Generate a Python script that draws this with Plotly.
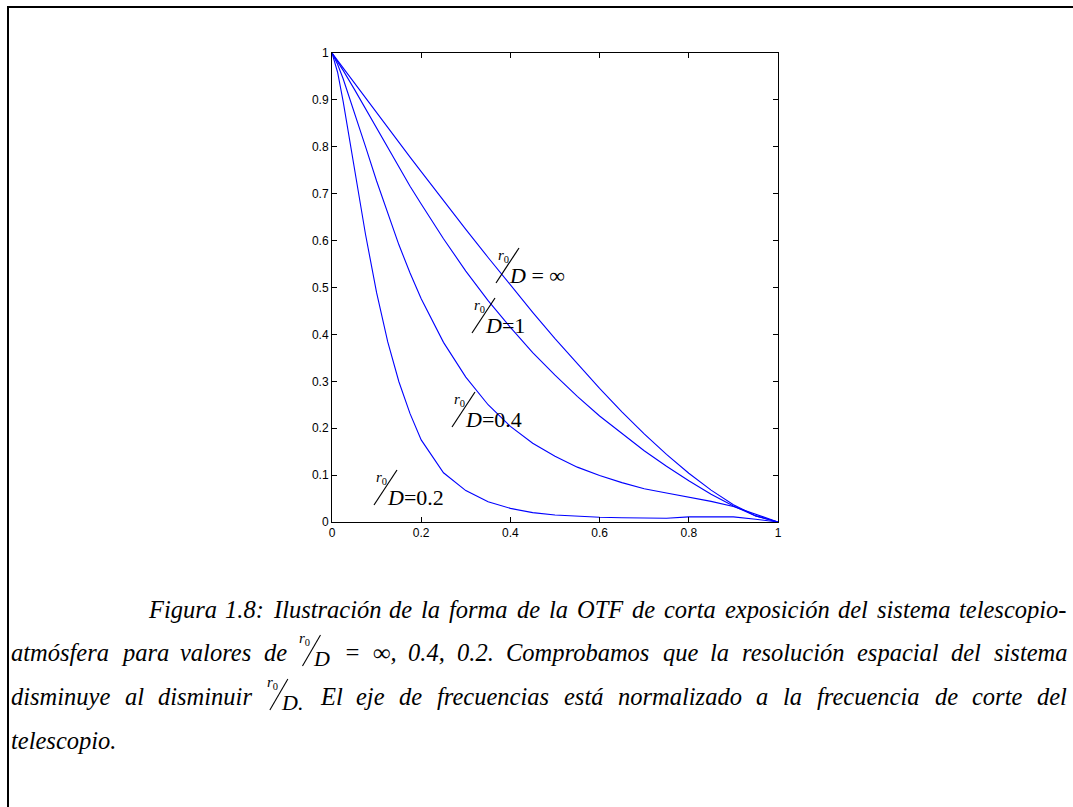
import plotly.graph_objects as go

# Normalised spatial frequency (fraction of the telescope cut-off)
freq = [0, 0.0125, 0.025, 0.05, 0.075, 0.1, 0.125, 0.15, 0.175, 0.2, 0.25, 0.3,
        0.35, 0.4, 0.45, 0.5, 0.55, 0.6, 0.65, 0.7, 0.75, 0.8, 0.85, 0.9, 0.95, 1.0]

# Short-exposure OTF for each r0/D
otf_inf = [1.0, 0.984, 0.968, 0.936, 0.905, 0.873, 0.841, 0.810, 0.778, 0.747, 0.685, 0.624,
           0.564, 0.505, 0.447, 0.391, 0.337, 0.285, 0.235, 0.188, 0.144, 0.104, 0.068, 0.037, 0.013, 0.0]
otf_r1 = [1.0, 0.982, 0.963, 0.923, 0.881, 0.839, 0.797, 0.756, 0.716, 0.678, 0.604, 0.535,
          0.472, 0.415, 0.361, 0.313, 0.268, 0.226, 0.188, 0.152, 0.119, 0.088, 0.059, 0.034, 0.013, 0.0]
otf_r04 = [1.0, 0.976, 0.945, 0.875, 0.801, 0.727, 0.657, 0.591, 0.531, 0.476, 0.383, 0.309,
           0.250, 0.204, 0.168, 0.140, 0.117, 0.099, 0.084, 0.071, 0.062, 0.053, 0.044, 0.033, 0.017, 0.0]
otf_r02 = [1.0, 0.959, 0.897, 0.755, 0.614, 0.489, 0.384, 0.299, 0.231, 0.175, 0.105, 0.067,
           0.043, 0.029, 0.020, 0.015, 0.012, 0.010, 0.009, 0.008, 0.008, 0.011, 0.011, 0.011, 0.006, 0.0]

series = [otf_inf, otf_r1, otf_r04, otf_r02]
curve_labels = [" = \u221e", "=1", "=0.4", "=0.2"]

x_ticks = [0, 0.2, 0.4, 0.6, 0.8, 1]
x_ticktext = ["0", "0.2", "0.4", "0.6", "0.8", "1"]
y_ticks = [0, 0.1, 0.2, 0.3, 0.4, 0.5, 0.6, 0.7, 0.8, 0.9, 1]
y_ticktext = ["0", "0.1", "0.2", "0.3", "0.4", "0.5", "0.6", "0.7", "0.8", "0.9", "1"]

RATIO = "<r0/D>"
caption_lines = [
    "Figura 1.8: Ilustración de la forma de la OTF de corta exposición del sistema telescopio-".split(),
    "atmósfera para valores de".split() + [RATIO] +
    "= \u221e, 0.4, 0.2. Comprobamos que la resolución espacial del sistema".split(),
    "disminuye al disminuir".split() + [RATIO + "."] +
    "El eje de frecuencias está normalizado a la frecuencia de corte del".split(),
    ["telescopio."],
]

W, H = 1073, 807
L, R, T, B = 332, 778, 53, 522


def px(x):
    return (x - L) / (R - L)


def py(y):
    return (B - y) / (B - T)


fig = go.Figure()
for ys in series:
    fig.add_trace(go.Scatter(x=freq, y=ys, mode="lines",
                             line=dict(color="#0000ff", width=1.1), hoverinfo="skip"))

annotations = []
shapes = []
SERIF = "Liberation Serif, Times New Roman, serif"


def text_at(x, y, text, size, anchor="left"):
    annotations.append(dict(x=px(x), y=py(y), xref="paper", yref="paper", text=text,
                            showarrow=False, xanchor=anchor, yanchor="middle", borderpad=0,
                            font=dict(family=SERIF, size=size, color="black")))


def ratio_label(x0, y0, tail, s=1.0, big=22, small=15):
    """r0/D followed by `tail`; (x0, y0) in pixels is the foot of the slanted bar."""
    text_at(x0 + 1 * s, y0 - 27 * s, "<i>r</i><sub>0</sub>", small)
    shapes.append(dict(type="line", xref="paper", yref="paper",
                       x0=px(x0), y0=py(y0), x1=px(x0 + 23 * s), y1=py(y0 - 35 * s),
                       line=dict(color="black", width=1.2)))
    text_at(x0 + 12 * s, y0 - 8 * s, "<i>D</i>" + tail, big)


# curve labels (feet of the fraction bars, in pixels)
label_feet = [(496, 283), (472, 333), (452, 427), (374, 505)]
for (fx, fy), lab in zip(label_feet, curve_labels):
    ratio_label(fx, fy, lab)

# frame around the figure block (top and left rules)
shapes.append(dict(type="line", xref="paper", yref="paper",
                   x0=px(7), y0=py(7), x1=px(W), y1=py(7), line=dict(color="black", width=2)))
shapes.append(dict(type="line", xref="paper", yref="paper",
                   x0=px(8), y0=py(7), x1=px(8), y1=py(H), line=dict(color="black", width=2)))

# ---- justified caption ----
CAP = 24.5  # font size, px
# Times italic advance widths (1/1000 em)
ADV = {' ': 250, 'a': 500, 'b': 500, 'c': 444, 'd': 500, 'e': 444, 'f': 278, 'g': 500,
       'h': 500, 'i': 278, 'j': 278, 'k': 444, 'l': 278, 'm': 722, 'n': 500, 'o': 500,
       'p': 500, 'q': 500, 'r': 389, 's': 389, 't': 278, 'u': 500, 'v': 444, 'w': 667,
       'x': 444, 'y': 444, 'z': 389, 'á': 500, 'é': 444, 'í': 278, 'ó': 500, 'ú': 500,
       'C': 667, 'D': 722, 'E': 611, 'F': 611, 'I': 333, 'O': 722, 'T': 556,
       '.': 250, ',': 250, ':': 333, '-': 333, '=': 675, '\u221e': 713}
for d in "0123456789":
    ADV[d] = 500
RATIO_W = 32  # width of the inline r0/D group, px


def word_width(w):
    if w.startswith(RATIO):
        return RATIO_W + word_width(w[len(RATIO):]) if len(w) > len(RATIO) else RATIO_W
    return sum(ADV.get(c, 500) for c in w) * CAP / 1000.0


line_y = [609, 652, 696, 740]
line_left = [147, 10, 10, 10]
RIGHT = 1066

for i, words in enumerate(caption_lines):
    widths = [word_width(w) for w in words]
    if i < len(caption_lines) - 1 and len(words) > 1:
        gap = (RIGHT - line_left[i] - sum(widths)) / (len(words) - 1)
    else:
        gap = ADV[' '] * CAP / 1000.0
    x = line_left[i]
    yc = line_y[i]
    for w, wd in zip(words, widths):
        if w.startswith(RATIO):
            tail = w[len(RATIO):]
            text_at(x, yc - 13, "<i>r</i><sub>0</sub>", 15)
            shapes.append(dict(type="line", xref="paper", yref="paper",
                               x0=px(x + 4), y0=py(yc + 14), x1=px(x + 22), y1=py(yc - 17),
                               line=dict(color="black", width=1.1)))
            text_at(x + 14, yc + 6, "<i>D" + tail + "</i>", 22)
        else:
            text_at(x, yc, "<i>" + w + "</i>", CAP)
        x += wd + gap

axis_common = dict(range=[0, 1], showgrid=False, zeroline=False, showline=True,
                   linecolor="black", linewidth=1, mirror="ticks", ticks="inside",
                   ticklen=5, tickcolor="black", tickwidth=1,
                   tickfont=dict(family="Arial, Liberation Sans, sans-serif", size=12, color="black"))

fig.update_layout(
    width=W, height=H,
    margin=dict(l=L, r=W - R, t=T, b=H - B),
    paper_bgcolor="white", plot_bgcolor="white",
    showlegend=False,
    xaxis=dict(tickvals=x_ticks, ticktext=x_ticktext, **axis_common),
    yaxis=dict(tickvals=y_ticks, ticktext=y_ticktext, **axis_common),
    annotations=annotations,
    shapes=shapes,
)

fig.write_html("out.html")
